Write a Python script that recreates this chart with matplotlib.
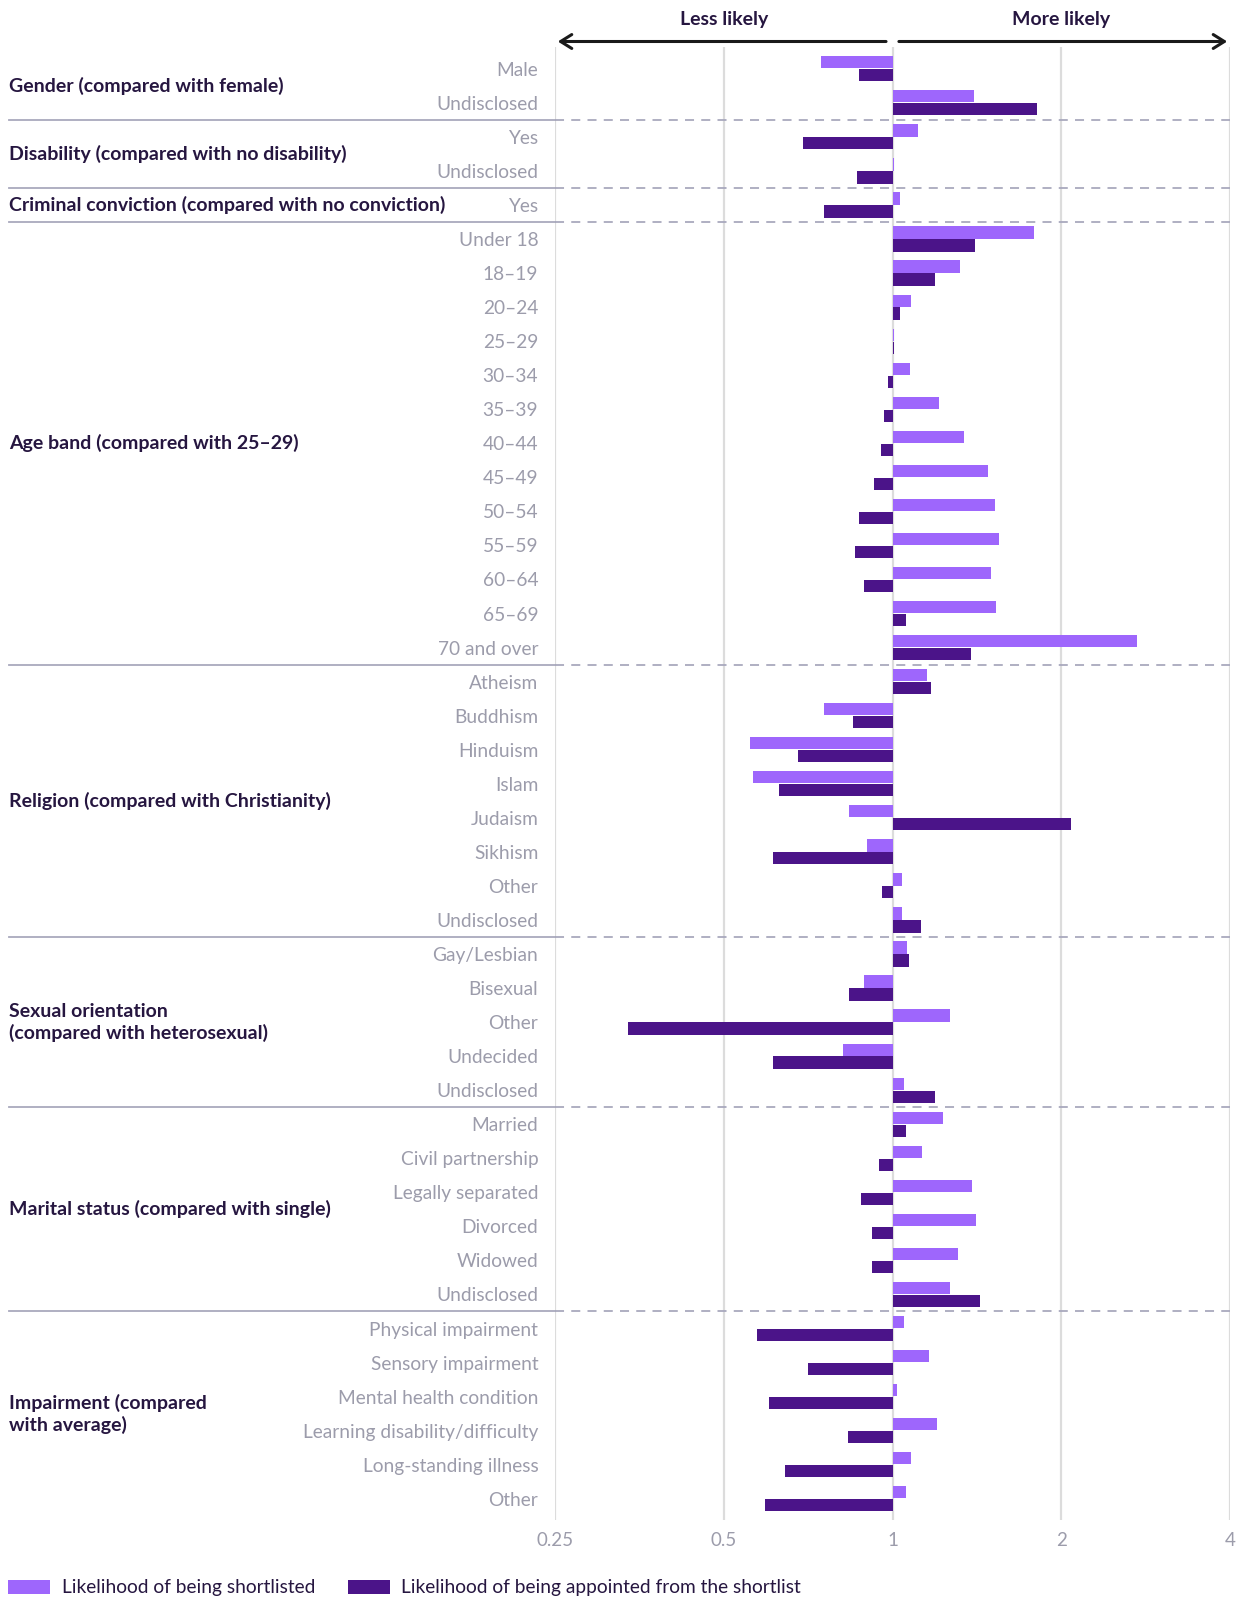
import matplotlib
matplotlib.use('Agg')
import matplotlib.pyplot as plt
import numpy as np

# Data: odds ratios (1 = no difference)
groups = ['Gender (compared with female)',
          'Disability (compared with no disability)',
          'Criminal conviction (compared with no conviction)',
          'Age band (compared with 25\u201329)',
          'Religion (compared with Christianity)',
          'Sexual orientation\n(compared with heterosexual)',
          'Marital status (compared with single)',
          'Impairment (compared\nwith average)']

group_rows = [
    ['Male', 'Undisclosed'],
    ['Yes', 'Undisclosed'],
    ['Yes'],
    ['Under 18', '18\u201319', '20\u201324', '25\u201329', '30\u201334', '35\u201339', '40\u201344',
     '45\u201349', '50\u201354', '55\u201359', '60\u201364', '65\u201369', '70 and over'],
    ['Atheism', 'Buddhism', 'Hinduism', 'Islam', 'Judaism', 'Sikhism', 'Other', 'Undisclosed'],
    ['Gay/Lesbian', 'Bisexual', 'Other', 'Undecided', 'Undisclosed'],
    ['Married', 'Civil partnership', 'Legally separated', 'Divorced', 'Widowed', 'Undisclosed'],
    ['Physical impairment', 'Sensory impairment', 'Mental health condition',
     'Learning disability/difficulty', 'Long-standing illness', 'Other'],
]

shortlisted = [0.747, 1.396,
               1.112, 1.007,
               1.033,
               1.791, 1.321, 1.080, 1.006, 1.076, 1.208, 1.343, 1.483, 1.521, 1.547, 1.497, 1.527, 2.735,
               1.154, 0.756, 0.557, 0.564, 0.837, 0.902, 1.041, 1.041,
               1.062, 0.888, 1.269, 0.817, 1.047,
               1.228, 1.127, 1.388, 1.411, 1.311, 1.269,
               1.047, 1.164, 1.017, 1.199, 1.080, 1.055]

appointed = [0.873, 1.807,
             0.691, 0.865,
             0.756,
             1.406, 1.192, 1.033, 1.006, 0.980, 0.964, 0.955, 0.928, 0.873, 0.856, 0.891, 1.059, 1.383,
             1.173, 0.851, 0.679, 0.628, 2.085, 0.613, 0.959, 1.122,
             1.072, 0.837, 0.338, 0.613, 1.192,
             1.055, 0.948, 0.877, 0.921, 0.921, 1.435,
             0.574, 0.707, 0.601, 0.834, 0.642, 0.593]

xticks = [0.25, 0.5, 1, 2, 4]
xticklabels = ['0.25', '0.5', '1', '2', '4']

light = '#9e66fc'
dark = '#4b1489'
text_dark = '#261640'
text_grey = '#9c9cab'
grid_col = '#dcdcdc'
sep_col = '#a9a9bd'

plt.rcParams['font.family'] = ['Lato', 'DejaVu Sans']

labels = [r for g in group_rows for r in g]
y = np.arange(len(labels))
W, H = 1239, 1599

fig = plt.figure(figsize=(W / 100, H / 100), dpi=100)
ax = fig.add_axes([555 / W, 1 - 1519.5 / H, 675 / W, 1472.5 / H])
ax.set_xscale('log', base=2)
ax.set_xlim(0.25, 4)
ax.set_ylim(42.61, -0.64)

for xv in xticks:
    ax.axvline(xv, color=grid_col, lw=1.6, zorder=0)

sl = np.array(shortlisted)
ap = np.array(appointed)
ax.barh(y - 0.19, sl - 1, left=1, height=0.36, color=light, zorder=2,
        label='Likelihood of being shortlisted')
ax.barh(y + 0.19, ap - 1, left=1, height=0.36, color=dark, zorder=2,
        label='Likelihood of being appointed from the shortlist')

for s in ax.spines.values():
    s.set_visible(False)

ax.set_xticks(xticks)
ax.set_xticklabels(xticklabels)
ax.xaxis.set_minor_locator(matplotlib.ticker.NullLocator())
ax.tick_params(axis='x', length=0, pad=9, labelsize=13.5, labelcolor=text_grey)
ax.set_yticks(y)
ax.set_yticklabels(labels)
ax.tick_params(axis='y', length=0, pad=12, labelsize=13.8, labelcolor=text_grey)

# group separators and group labels
start = 0
ytr = ax.get_yaxis_transform()
for i, (g, rows) in enumerate(zip(groups, group_rows)):
    end = start + len(rows) - 1
    ax.text(-0.809, (start + end) / 2, g, transform=ytr, ha='left', va='center',
            fontsize=14, fontweight='bold', color=text_dark, linespacing=1.25)
    if i < len(groups) - 1:
        b = end + 0.5
        ax.axhline(b, color=sep_col, lw=1.3, ls=(0, (5, 4)), zorder=1)
        ax.plot([-0.809, 0], [b, b], transform=ytr, color=sep_col, lw=1.3,
                clip_on=False)
    start = end + 1

# direction arrows
xtr = ax.get_xaxis_transform()
ay = 1 + (47 - 41.5) / 1472.5
head = '->,head_length=0.8,head_width=0.5'
ax.annotate('', xy=(0.25, ay), xytext=(0.985, ay), xycoords=xtr, textcoords=xtr,
            arrowprops=dict(arrowstyle=head, color='#1a1a1a', lw=2.2))
ax.annotate('', xy=(4, ay), xytext=(1.015, ay), xycoords=xtr, textcoords=xtr,
            arrowprops=dict(arrowstyle=head, color='#1a1a1a', lw=2.2))
ty = 1 + (47 - 19.5) / 1472.5
ax.text(0.5, ty, 'Less likely', transform=xtr, ha='center', va='center',
        fontsize=14, fontweight='bold', color=text_dark)
ax.text(2, ty, 'More likely', transform=xtr, ha='center', va='center',
        fontsize=14, fontweight='bold', color=text_dark)

fig.legend(loc='center left', bbox_to_anchor=(8 / W, 1 - 1588 / H), ncol=2,
           frameon=False, fontsize=13.8, handlelength=2.2, handleheight=0.72,
           handletextpad=0.6, columnspacing=1.7, borderpad=0, borderaxespad=0,
           labelcolor=text_dark)

fig.savefig('out.png', dpi=100)
